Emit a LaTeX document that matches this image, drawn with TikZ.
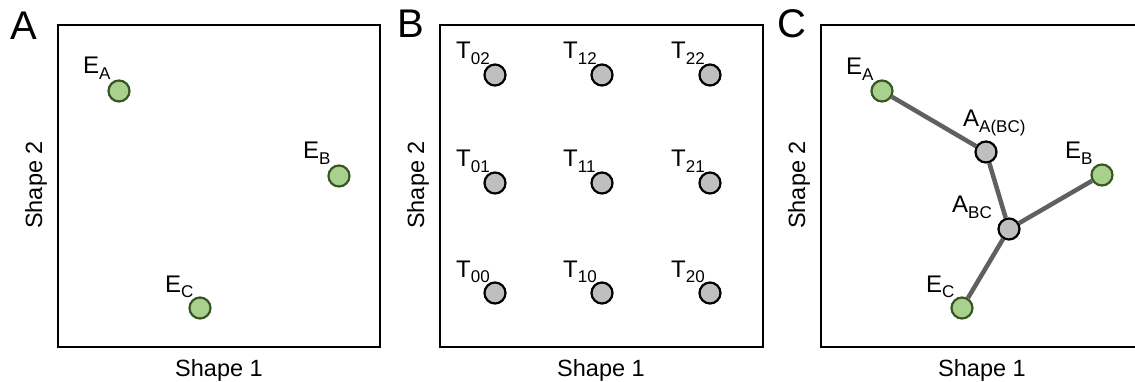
\documentclass[tikz,border=0pt]{standalone}
\usepackage{fontspec}
\setmainfont{Liberation Sans}
\newcommand\lbl[2]{#1\raisebox{-5.5pt}{\fontsize{17}{17}\selectfont #2}}
\tikzset{
  panelbox/.style={draw=black, line width=2.4pt},
  enode/.style={circle, draw=edgegreen, fill=fillgreen, line width=2.2pt, minimum size=21pt, inner sep=0pt},
  tnode/.style={circle, draw=black, fill=fillgray, line width=2.2pt, minimum size=21pt, inner sep=0pt},
  tag/.style={anchor=base west, inner sep=0pt, font=\fontsize{24}{24}\selectfont},
  axis/.style={inner sep=0pt, font=\fontsize{23.5}{23.5}\selectfont},
  plabel/.style={inner sep=0pt, font=\fontsize{40}{40}\selectfont},
  conn/.style={draw=conngray, line width=4.5pt}
}
\definecolor{edgegreen}{HTML}{385723}
\definecolor{fillgreen}{HTML}{A9D18E}
\definecolor{fillgray}{HTML}{BFBFBF}
\definecolor{conngray}{HTML}{606060}
\begin{document}
\begin{tikzpicture}[x=1pt,y=-1pt]
\useasboundingbox (0,0) rectangle (1135,382);
\begin{scope}
\clip (0,0) rectangle (1135,382);
% panel A
\node[plabel] (labA) at (24,26) {A};
\draw[panelbox] (58,25) rectangle (380,347);
\node[axis, rotate=90] (yA) at (36,185) {Shape 2};
\node[axis, anchor=base] (xA) at (219,376) {Shape 1};
\node[enode] (aEA) at (119,91) {};
\node[enode] (aEB) at (339,176) {};
\node[enode] (aEC) at (200,308) {};
\node[tag] (aEAl) at (83,74) {\lbl{E}{A}};
\node[tag] (aEBl) at (303,159) {\lbl{E}{B}};
\node[tag] (aECl) at (165,292) {\lbl{E}{C}};
% panel B
\node[plabel] (labB) at (411,24) {B};
\draw[panelbox] (440,25) rectangle (763,347);
\node[axis, rotate=90] (yB) at (418,185) {Shape 2};
\node[axis, anchor=base] (xB) at (601,376) {Shape 1};
\foreach \i/\x in {0/495,1/602,2/710}{
  \foreach \j/\y in {0/293,1/183,2/75}{
    \node[tnode] (t\i\j) at (\x,\y) {};
    \node[tag] (t\i\j l) at (\x-39,\y-16) {\lbl{T}{\i\j}};
  }
}
% panel C
\node[plabel] (labC) at (792,24) {C};
\draw[panelbox] (821,25) rectangle (1143,347);
\node[axis, rotate=90] (yC) at (799,185) {Shape 2};
\node[axis, anchor=base] (xC) at (982,376) {Shape 1};
\node[enode] (cEA) at (882,91) {};
\node[enode] (cEB) at (1102,175) {};
\node[enode] (cEC) at (962,308) {};
\node[tnode] (cAABC) at (986,152) {};
\node[tnode] (cABC) at (1009,229) {};
\draw[conn] (cEA) -- (cAABC);
\draw[conn] (cAABC) -- (cABC);
\draw[conn] (cABC) -- (cEB);
\draw[conn] (cABC) -- (cEC);
\node[tag] (cEAl) at (846,75) {\lbl{E}{A}};
\node[tag] (cEBl) at (1065,159) {\lbl{E}{B}};
\node[tag] (cECl) at (926,292) {\lbl{E}{C}};
\node[tag] (cAABCl) at (963,127) {\lbl{A}{A(BC)}};
\node[tag] (cABCl) at (952,213) {\lbl{A}{BC}};
\end{scope}
\end{tikzpicture}
\end{document}
